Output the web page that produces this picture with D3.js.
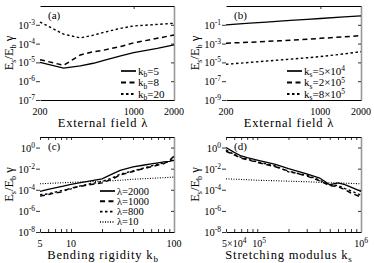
<!DOCTYPE html>
<html>
<head>
<meta charset="utf-8">
<script src="https://cdn.jsdelivr.net/npm/d3@7"></script>
<style>
  body { margin: 0; background: #fff; }
  svg text { font-family: "Liberation Serif", "Times New Roman", serif; }
</style>
</head>
<body>
<svg id="chart" width="374" height="263"></svg>
<script>
// panel (a), (b): external field
var lambdaVals = [200, 300, 400, 500, 600, 800, 1000, 1500, 2000];
var aKb5  = [1.0e-5, 5.0e-6, 6.5e-6, 9.0e-6, 1.3e-5, 2.2e-5, 3.3e-5, 5.5e-5, 8.5e-5];
var aKb8  = [1.4e-5, 7.0e-6, 2.5e-5, 3.7e-5, 4.5e-5, 7.0e-5, 1.1e-4, 1.9e-4, 2.9e-4];
var aKb20 = [1.4e-3, 3.2e-4, 2.0e-4, 2.8e-4, 4.0e-4, 6.5e-4, 8.7e-4, 1.05e-3, 1.2e-3];
var bKs1 = [0.10, 0.15, 0.19, 0.24, 0.29, 0.38, 0.47, 0.68, 0.90];
var bKs2 = [1.1e-3, 1.4e-3, 1.7e-3, 2.0e-3, 2.3e-3, 2.9e-3, 3.6e-3, 5.2e-3, 7.0e-3];
var bKs3 = [6.3e-6, 1.0e-5, 1.4e-5, 1.8e-5, 2.2e-5, 3.1e-5, 4.2e-5, 8.0e-5, 1.4e-4];

// panel (c): bending rigidity
var kbVals = [5, 6, 7, 8, 10, 12, 15, 20, 25, 30, 40, 50, 60, 70, 80, 90, 100];
var cL2000 = [7e-5, 1.1e-4, 1.5e-4, 2e-4, 3.3e-4, 4.5e-4, 6.5e-4, 1.1e-3, 3e-3, 6.9e-3, 1.45e-2, 2.1e-2, 2.8e-2, 3.6e-2, 4.3e-2, 5e-2, 6e-2];
var cL1000 = [2.5e-5, 3.5e-5, 5e-5, 6e-5, 1.5e-4, 2e-4, 3e-4, 4.5e-4, 1e-3, 2.5e-3, 5.5e-3, 1e-2, 1.5e-2, 2.2e-2, 3e-2, 6e-2, 1.5e-1];
var cL800  = [3.5e-5, 4e-5, 6e-5, 8e-5, 1.2e-4, 2.2e-4, 3.5e-4, 6e-4, 1.3e-3, 3e-3, 6e-3, 1.1e-2, 1.8e-2, 2.6e-2, 3.5e-2, 5e-2, 9e-2];
var cL10   = [3.7e-4, 4e-4, 4.3e-4, 4.6e-4, 5e-4, 5.4e-4, 5.9e-4, 6.5e-4, 7.2e-4, 8e-4, 1e-3, 1.1e-3, 1.2e-3, 1.3e-3, 1.4e-3, 1.5e-3, 1.6e-3];

// panel (d): stretching modulus
var ksVals = [5e4, 6e4, 7e4, 8e4, 1e5, 1.5e5, 2e5, 3e5, 4e5, 5e5, 6e5, 7e5, 8e5, 1e6];
var dL2000 = [1.0, 0.35, 0.16, 0.11, 0.065, 0.025, 1.0e-2, 3.2e-3, 1.3e-3, 3e-4, 4.4e-4, 3e-4, 1.8e-4, 7e-5];
var dL1000 = [0.45, 0.2, 0.1, 0.07, 0.04, 1.5e-2, 6e-3, 2e-3, 7e-4, 2.5e-4, 2e-4, 1e-4, 5e-5, 2e-5];
var dL800  = [0.6, 0.22, 0.12, 0.08, 0.045, 1.8e-2, 5e-3, 2.5e-3, 8e-4, 3e-4, 2.5e-4, 1.3e-4, 8e-5, 3e-5];
var dL10   = [1.1e-3, 1.0e-3, 9.5e-4, 9e-4, 8e-4, 7.2e-4, 6.5e-4, 5.8e-4, 5e-4, 4.6e-4, 4.4e-4, 4.2e-4, 4e-4, 3.7e-4];

// tick exponents shown on y axes
var aYExp = [-3, -4, -5, -6, -7];
var bYExp = [-1, -3, -5, -7, -9];
var cdYExp = [0, -2, -4, -6, -8];

var dashes = { solid: null, long: "5,3.5", short: "2.5,2.5", dot: "1,1.5" };
var widths = { solid: 1.3, long: 1.5, short: 1.4, dot: 1.1 };

var svg = d3.select("#chart");

function sup(sel, base, exp, size) {
  sel.append("tspan").text(base);
  sel.append("tspan").attr("dy", -4).attr("font-size", size).text(exp);
}

function panel(p) {
  var x = d3.scaleLog().domain(p.xd).range([p.x0, p.x1]);
  var y = d3.scaleLog().domain(p.yd).range([p.y1, p.y0]);
  var g = svg.append("g");
  var yt = p.yExp.map(function(e) { return Math.pow(10, e); });

  // left ticks (no spine)
  var la = g.append("g").attr("transform", "translate(" + p.x0 + ",0)")
    .call(d3.axisLeft(y).tickValues(yt).tickSize(4).tickSizeOuter(0).tickFormat(""));
  la.select(".domain").remove();
  // right spine, inward ticks
  var ra = g.append("g").attr("transform", "translate(" + p.x1 + ",0)")
    .call(d3.axisLeft(y).tickValues(yt.slice(0, -1)).tickSize(3).tickSizeOuter(0).tickFormat(""));
  ra.select(".domain").attr("stroke", "#999").attr("stroke-width", 1.6);
  // top and bottom spines, inward ticks
  g.append("g").attr("transform", "translate(0," + p.y0 + ")")
    .call(d3.axisBottom(x).tickValues(p.topTicks).tickSize(3).tickSizeOuter(0).tickFormat(""));
  g.append("g").attr("transform", "translate(0," + p.y1 + ")")
    .call(d3.axisTop(x).tickValues(p.botTicks).tickSize(3).tickSizeOuter(0).tickFormat(""));
  g.selectAll(".tick line").attr("stroke-width", 0.8);

  // y tick labels
  p.yExp.forEach(function(e) {
    var t = g.append("text").attr("x", p.x0 - 5).attr("y", y(Math.pow(10, e)) + 4)
      .attr("text-anchor", "end").attr("font-size", 10.5);
    sup(t, "10", e === 0 ? "0" : "-" + Math.abs(e), 7.5);
  });
  // x tick labels
  p.xLabels.forEach(function(l) {
    var t = g.append("text").attr("x", x(l.v) + (l.dx || 0)).attr("y", p.y1 + 14.5)
      .attr("text-anchor", l.anchor || "middle").attr("font-size", 10);
    if (l.exp) sup(t, l.base, l.exp, 7.5); else t.text(l.base);
  });

  // axis titles
  var xt = g.append("text").attr("x", p.x0 + 63).attr("y", p.y1 + 27)
    .attr("text-anchor", "middle").attr("font-size", 12.5).attr("letter-spacing", 0.8);
  xt.append("tspan").text(p.xTitle);
  if (p.xSub) xt.append("tspan").attr("dy", 3).attr("font-size", 9).text(p.xSub);

  var ytl = g.append("text")
    .attr("transform", "translate(" + (p.x0 - 27) + "," + ((p.y0 + p.y1) / 2) + ") rotate(-90)")
    .attr("text-anchor", "middle").attr("font-size", 12.5);
  ytl.append("tspan").text("E");
  ytl.append("tspan").attr("dy", 3).attr("font-size", 8).text("s");
  ytl.append("tspan").attr("dy", -3).text("/E");
  ytl.append("tspan").attr("dy", 3).attr("font-size", 8).text("b");
  ytl.append("tspan").attr("dy", -3).text(" γ");

  g.append("text").attr("x", p.x0 + 8).attr("y", p.y0 + 13).attr("font-size", 11).text(p.tag);

  var line = d3.line()
    .x(function(d) { return x(d[0]); })
    .y(function(d) { return y(d[1]); });

  p.series.forEach(function(s, i) {
    var pts = p.xs.map(function(v, j) { return [v, s.vals[j]]; });
    g.append("path").datum(pts).attr("d", line).attr("fill", "none")
      .attr("stroke", "#000").attr("stroke-width", widths[s.style])
      .attr("stroke-dasharray", dashes[s.style]);
    if (s.name) {
      var ly = p.legY + i * p.legStep;
      g.append("line").attr("x1", p.legX).attr("x2", p.legX + 15).attr("y1", ly).attr("y2", ly)
        .attr("stroke", "#000").attr("stroke-width", widths[s.style] + 0.4)
        .attr("stroke-dasharray", dashes[s.style]);
      var lt = g.append("text").attr("x", p.legX + 17).attr("y", ly + 3.5).attr("font-size", p.legFont);
      lt.append("tspan").text(s.name[0]);
      if (s.name[1]) lt.append("tspan").attr("dy", 2.5).attr("font-size", 7.5).text(s.name[1]);
      lt.append("tspan").attr("dy", s.name[1] ? -2.5 : 0).text(s.name[2]);
      if (s.name[3]) lt.append("tspan").attr("dy", -3.5).attr("font-size", 7.5).text(s.name[3]);
    }
  });
}

var minorLog = function(lo, hi) {
  var out = [];
  for (var d = Math.pow(10, Math.floor(Math.log10(lo))); d < hi; d *= 10)
    for (var m = 1; m < 10; m++) { var v = m * d; if (v >= lo && v <= hi) out.push(v); }
  return out;
};

panel({
  x0: 40, x1: 174, y0: 6, y1: 100, xd: [200, 2000], yd: [1e-7, 1e-2], yExp: aYExp,
  topTicks: [1000], botTicks: [], tag: "(a)", xTitle: "External field λ",
  xLabels: [{ v: 200, base: "200" }, { v: 1000, base: "1000" }, { v: 2000, base: "2000" }],
  xs: lambdaVals, legX: 121, legY: 71, legStep: 11.5, legFont: 11,
  series: [
    { vals: aKb5, style: "solid", name: ["k", "b", "=5"] },
    { vals: aKb8, style: "long", name: ["k", "b", "=8"] },
    { vals: aKb20, style: "short", name: ["k", "b", "=20"] }
  ]
});

panel({
  x0: 226, x1: 361, y0: 6, y1: 100, xd: [200, 2000], yd: [1e-9, 1e1], yExp: bYExp,
  topTicks: [1000], botTicks: [], tag: "(b)", xTitle: "External field λ",
  xLabels: [{ v: 200, base: "200" }, { v: 1000, base: "1000" }, { v: 2000, base: "2000" }],
  xs: lambdaVals, legX: 287, legY: 71, legStep: 11.5, legFont: 11,
  series: [
    { vals: bKs1, style: "solid", name: ["k", "s", "=5×10", "4"] },
    { vals: bKs2, style: "long", name: ["k", "s", "=2×10", "5"] },
    { vals: bKs3, style: "short", name: ["k", "s", "=8×10", "5"] }
  ]
});

panel({
  x0: 40, x1: 174, y0: 137, y1: 232, xd: [5, 100], yd: [1e-8, 1e1], yExp: cdYExp,
  topTicks: minorLog(5, 100), botTicks: minorLog(5, 100), tag: "(c)",
  xTitle: "Bending rigidity k", xSub: "b",
  xLabels: [{ v: 5, base: "5" }, { v: 10, base: "10" }, { v: 100, base: "100" }],
  xs: kbVals, legX: 100, legY: 191, legStep: 10.3, legFont: 10.5,
  series: [
    { vals: cL2000, style: "solid", name: ["λ", "", "=2000"] },
    { vals: cL1000, style: "long", name: ["λ", "", "=1000"] },
    { vals: cL800, style: "short", name: ["λ", "", "=800"] },
    { vals: cL10, style: "dot", name: ["λ", "", "=10"] }
  ]
});

panel({
  x0: 226, x1: 361, y0: 137, y1: 232, xd: [5e4, 1e6], yd: [1e-8, 1e1], yExp: cdYExp,
  topTicks: minorLog(5e4, 1e6), botTicks: minorLog(5e4, 1e6), tag: "(d)",
  xTitle: "Stretching modulus k", xSub: "s",
  xLabels: [{ v: 5e4, base: "5×10", exp: "4", dx: -4, anchor: "start" }, { v: 1e5, base: "10", exp: "5", dx: 2 }, { v: 1e6, base: "10", exp: "6" }],
  xs: ksVals, legX: 0, legY: 0, legStep: 0, legFont: 11,
  series: [
    { vals: dL2000, style: "solid" },
    { vals: dL1000, style: "long" },
    { vals: dL800, style: "short" },
    { vals: dL10, style: "dot" }
  ]
});
</script>
</body>
</html>
